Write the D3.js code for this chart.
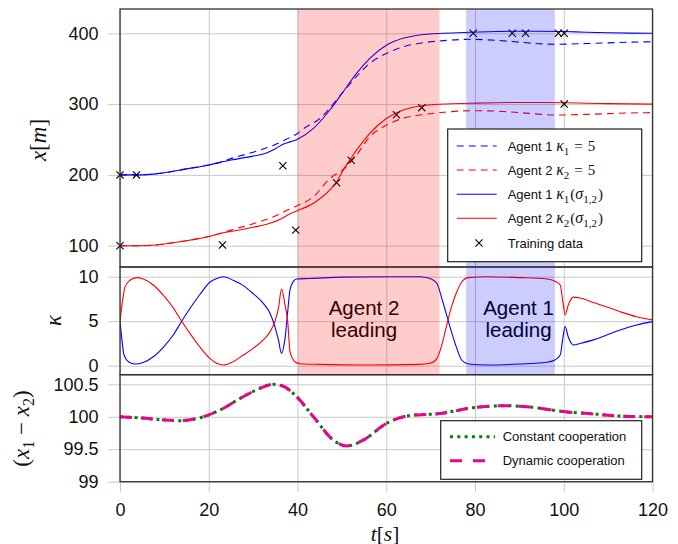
<!DOCTYPE html>
<html><head><meta charset="utf-8">
<script src="https://cdn.jsdelivr.net/npm/d3@7"></script>
<style>body{margin:0;background:#fff}</style>
</head><body><svg id="c" width="678" height="544"></svg>
<script>
// ---------- DATA ----------
const xTicks = [0, 20, 40, 60, 80, 100, 120];
const topTicks = [100, 200, 300, 400];
const midTicks = [0, 5, 10];
const botTicks = [99, 99.5, 100, 100.5];
const botTickLabels = ["99", "99.5", "100", "100.5"];

// Agent 1, dynamic kappa (solid blue)
const tA1Dyn = [0,4,8,10,15,20,23,25,30,33,35,37,38.5,40,43.6,47.3,50.3,53.3,56.3,60.1,63.8,67.6,72.9,78.9,85,90,95,100,105,110,115,120];
const xA1Dyn = [200,200,201.5,203,208.5,214,218.5,221,226.5,231,237,244,247,250.5,265.8,291.7,317.5,343.5,364.7,383.5,392.9,397.6,400,401.4,402.5,403,403,402.5,401.5,400.8,400.3,400];
// Agent 1, kappa = 5 (dashed blue)
const tA1Const = [0,4,8,10,15,20,23,25,30,35,38,40,41.3,45.1,50,53.3,56.3,60.1,63.8,67.6,72.9,78.9,85,90,95,98,105,110,115,120];
const xA1Const = [200,200,201.5,203,208.5,214,218.5,223,232,243,252,258.5,265,280,315,339,357.6,371.8,381,385.9,389.6,391.5,390,387.5,385,384.5,385.5,386.5,387.5,388];
// Agent 2, dynamic kappa (solid red)
const tA2Dyn = [0,4,8,10,15,20,23,25,30,33.8,36,38,39.8,43.6,47.3,48.8,50.3,51.8,53.3,56.3,60.1,63.8,67.6,72.9,78.9,85,90,95,100,105,110,115,120];
const xA2Dyn = [100,100,101,102.5,107,113,118,120,126,131.6,137,144,149,160,178.7,190,206.9,221,235,258.8,280,291.7,297.3,300.1,301.1,302,302.3,302.3,302,301.3,300.7,300.3,300];
// Agent 2, kappa = 5 (dashed red)
const tA2Const = [0,4,8,10,15,20,23,25,30,35,38,39.8,43.6,47.3,50.6,53.3,56.3,60.1,63.8,67.6,72.9,78.9,85,90,95,98,105,110,115,120];
const xA2Const = [100,100,101,102.5,107,113,118,122,131,142,151,156,169,195,209,228,254,270.5,280,284.6,288.4,290.7,290,288,285.5,284.5,285.5,286.5,287.5,288];
// Training data
const trainT = [0,3.7,36.7,0,23.1,39.6,48.8,52.1,62.3,68,79.6,88.4,91.4,98.8,100.1,100.1];
const trainX = [200,200,213,100,101,122,189,220.6,285,295,400,400,400,400,400,300];

// kappa_1 (blue)
const tK1 = [0,0.4,0.9,1.9,3.4,5.25,7.5,9.8,12,13.9,15.8,18,20.3,21.8,23.3,25.5,27.8,30,32.3,33.8,34.9,35.7,36.4,37.2,37.8,38.3,39.1,39.8,42.8,50,60,67.6,69.9,71.4,72.5,73.6,74.7,75.9,77,78.5,82.6,90.1,96.2,98,99.2,99.8,100.3,101,102.2,103.7,106.7,109.7,112.7,116.4,120];
const k1 = [5,3.1,1.2,0.45,0.19,0.37,1.0,2.1,3.45,5,6.45,8.0,9.4,9.8,10.0,9.6,9.0,8.1,7.0,5.9,4.4,2.9,1.4,3.1,6.1,8.5,9.5,9.75,9.8,9.95,10.0,10,9.8,9.26,7.6,5.7,3.8,1.95,0.64,0.19,0.08,0.19,0.38,0.64,1.2,3.1,4.4,3.26,2.33,2.5,2.9,3.45,4.0,4.57,4.95];
// kappa_2 (red)
const tK2 = [0,0.75,1.1,2.25,3.75,5.25,7.5,9.8,12,13.9,15.8,18,20.3,21.8,23.3,25.5,27.8,30,32.3,33.8,34.9,35.7,36.4,37.2,37.8,38.3,39.4,40.6,45,55,67.6,69.9,71.4,72.5,73.6,74.7,75.9,77,78.5,82.6,90.1,96.2,98,99.2,99.8,100.3,101,102.2,103.7,106.7,109.7,112.7,116.4,120];
const k2 = [5,7.9,8.8,9.6,9.9,9.74,9.07,7.9,6.5,5.0,3.6,2.1,0.8,0.27,0.08,0.45,1.2,1.95,2.9,3.8,4.95,6.45,8.6,6.8,4.95,1.6,0.45,0.22,0.15,0.08,0.15,0.27,0.8,2.3,4.5,6.6,8.3,9.4,9.9,10.0,9.9,9.74,9.5,9.07,7.2,5.7,6.8,7.7,7.6,7.1,6.6,6.07,5.5,5.15];

// x1 - x2
const tDiff = [0,5,10,13.5,18.8,23,27,31,34.5,36.8,39.8,43.6,48.1,51.1,54.8,60.1,65.4,72.1,79.6,87.1,92.4,99.9,107.4,113,120];
const diffConst = [100,99.98,99.95,99.94,100.0,100.12,100.28,100.42,100.5,100.47,100.31,100.0,99.64,99.55,99.64,99.9,100.02,100.05,100.14,100.17,100.15,100.08,100.04,100.01,100.0];
const diffDyn = [100,99.98,99.95,99.94,100.0,100.12,100.28,100.42,100.5,100.47,100.31,100.0,99.64,99.55,99.64,99.9,100.02,100.05,100.14,100.17,100.15,100.08,100.04,100.01,100.0];

const regions = [
  {from: 40, to: 72, color: "#ff0000", line1: "Agent 2", line2: "leading", cx: 364},
  {from: 78, to: 98, color: "#0000ff", line1: "Agent 1", line2: "leading", cx: 518.5}
];

// ---------- LAYOUT ----------
const SANS = "'Liberation Sans', Arial, Helvetica, sans-serif";
const SERIF = "'Liberation Serif', 'DejaVu Serif', serif";
const svg = d3.select("#c");
const X0 = 120, X1 = 652.5;
const x = d3.scaleLinear().domain([0, 120]).range([X0, X1]);
const panels = {
  top: {y0: 9, y1: 267, s: d3.scaleLinear().domain([100, 400]).range([245.7, 33.3]), ticks: topTicks, labels: topTicks.map(String)},
  mid: {y0: 267, y1: 374.7, s: d3.scaleLinear().domain([0, 10]).range([365.7, 276.7]), ticks: midTicks, labels: midTicks.map(String)},
  bot: {y0: 374.7, y1: 481.7, s: d3.scaleLinear().domain([99, 100.5]).range([481.7, 384.3]), ticks: botTicks, labels: botTickLabels}
};
const GRID = "#c9c9c9";

const defs = svg.append("defs");
Object.entries(panels).forEach(([k, p]) => {
  defs.append("clipPath").attr("id", "clip-" + k).append("rect")
    .attr("x", X0).attr("y", p.y0).attr("width", X1 - X0).attr("height", p.y1 - p.y0);
});

// x gridlines + bottom ticks
const xAxis = d3.axisBottom(x).tickValues(xTicks).tickSizeInner(-(492 - 9)).tickSizeOuter(0).tickPadding(11.5);
const gx = svg.append("g").attr("transform", "translate(0,492)").call(xAxis);
gx.select(".domain").remove();
gx.selectAll("line").attr("stroke", GRID).attr("stroke-width", 1);
gx.selectAll("text").attr("font-family", SANS).attr("font-size", 18).attr("fill", "#111");

// y gridlines per panel
Object.values(panels).forEach(p => {
  const ax = d3.axisLeft(p.s).tickValues(p.ticks).tickFormat((d, i) => p.labels[i])
    .tickSizeInner(-(X1 - 108)).tickSizeOuter(0).tickPadding(9.5);
  const g = svg.append("g").attr("transform", "translate(108,0)").call(ax);
  g.select(".domain").remove();
  g.selectAll("line").attr("stroke", GRID).attr("stroke-width", 1);
  g.selectAll("text").attr("font-family", SANS).attr("font-size", 18).attr("fill", "#111");
});

function drawLine(panel, ts, vs, color, width, dash) {
  const p = panels[panel];
  const data = ts.map((t, i) => [t, vs[i]]);
  const line = d3.line().x(d => x(d[0])).y(d => p.s(d[1])).curve(d3.curveMonotoneX);
  svg.append("path").datum(data).attr("d", line).attr("fill", "none")
    .attr("stroke", color).attr("stroke-width", width)
    .attr("stroke-dasharray", dash || null)
    .attr("clip-path", "url(#clip-" + panel + ")");
}

// top panel lines
drawLine("top", tA1Const, xA1Const, "#0000ff", 1.1, "7,5");
drawLine("top", tA2Const, xA2Const, "#ff0000", 1.1, "7,5");
drawLine("top", tA1Dyn, xA1Dyn, "#0000ff", 1.1);
drawLine("top", tA2Dyn, xA2Dyn, "#ff0000", 1.1);

// training crosses
function cross(g, cx, cy, r) {
  g.append("path").attr("d", `M${cx - r},${cy - r}L${cx + r},${cy + r}M${cx - r},${cy + r}L${cx + r},${cy - r}`)
    .attr("stroke", "#000").attr("stroke-width", 1.1).attr("fill", "none");
}
const gc = svg.append("g");
trainT.forEach((t, i) => cross(gc, x(t), panels.top.s(trainX[i]), 3.6));

// middle panel
drawLine("mid", tK1, k1, "#0000ff", 1.1);
drawLine("mid", tK2, k2, "#ff0000", 1.1);

// annotation text
regions.forEach(r => {
  const t = svg.append("text").attr("font-family", SANS).attr("font-size", 20.5).attr("fill", "#000").attr("text-anchor", "middle");
  t.append("tspan").attr("x", r.cx).attr("y", 314.5).text(r.line1);
  t.append("tspan").attr("x", r.cx).attr("y", 336.5).text(r.line2);
});

// shading over top and mid panels
regions.forEach(r => {
  svg.append("rect").attr("x", x(r.from)).attr("y", panels.top.y0)
    .attr("width", x(r.to) - x(r.from)).attr("height", panels.mid.y1 - panels.top.y0)
    .attr("fill", r.color).attr("fill-opacity", 0.2);
});

// bottom panel
drawLine("bot", tDiff, diffConst, "#008000", 3, "3,4.3");
drawLine("bot", tDiff, diffDyn, "#e5068a", 3, "12,9");

// frames
Object.values(panels).forEach(p => {
  svg.append("rect").attr("x", X0).attr("y", p.y0).attr("width", X1 - X0).attr("height", p.y1 - p.y0)
    .attr("fill", "none").attr("stroke", "#333").attr("stroke-width", 1.3);
});

// ---------- LEGENDS ----------
function mathLabel(textSel, parts) {
  parts.forEach(pt => {
    const ts = textSel.append("tspan").text(pt.t);
    if (pt.serif) ts.attr("font-family", SERIF).attr("font-size", pt.size || 15);
    if (pt.it) ts.attr("font-style", "italic");
    if (pt.dy) ts.attr("dy", pt.dy);
    if (pt.dx) ts.attr("dx", pt.dx);
  });
}
const L1 = svg.append("g");
L1.append("rect").attr("x", 447.7).attr("y", 129).attr("width", 194).attr("height", 132.7)
  .attr("fill", "#fff").attr("stroke", "#222").attr("stroke-width", 1.2);
const leg1 = [
  {cy: 146, color: "#0000ff", dash: "7,5", agent: "Agent 1 ", sub: "1", kind: "const"},
  {cy: 170, color: "#ff0000", dash: "7,5", agent: "Agent 2 ", sub: "2", kind: "const"},
  {cy: 194.3, color: "#0000ff", dash: null, agent: "Agent 1 ", sub: "1", kind: "dyn"},
  {cy: 218.3, color: "#ff0000", dash: null, agent: "Agent 2 ", sub: "2", kind: "dyn"}
];
leg1.forEach(e => {
  L1.append("line").attr("x1", 456.7).attr("x2", 496.7).attr("y1", e.cy).attr("y2", e.cy)
    .attr("stroke", e.color).attr("stroke-width", 1.1).attr("stroke-dasharray", e.dash);
  const t = L1.append("text").attr("x", 507.7).attr("y", e.cy + 4.5).attr("font-family", SANS).attr("font-size", 13).attr("fill", "#111");
  const parts = [{t: e.agent}, {t: "κ", serif: true, it: true, size: 16}, {t: e.sub, serif: true, size: 11, dy: 4}];
  if (e.kind === "const") {
    parts.push({t: "=", serif: true, size: 15, dy: -4, dx: 5});
    parts.push({t: "5", serif: true, size: 15, dx: 5});
  } else {
    parts.push({t: "(", serif: true, size: 15, dy: -4, dx: 1});
    parts.push({t: "σ", serif: true, it: true, size: 16});
    parts.push({t: "1,2", serif: true, size: 11, dy: 4});
    parts.push({t: ")", serif: true, size: 15, dy: -4, dx: 1});
  }
  mathLabel(t, parts);
});
cross(L1, 479, 243, 3.6);
L1.append("text").attr("x", 507.7).attr("y", 247.5).attr("font-family", SANS).attr("font-size", 13).attr("fill", "#111").text("Training data");

const L2 = svg.append("g");
L2.append("rect").attr("x", 440.7).attr("y", 420.7).attr("width", 201).attr("height", 58.6)
  .attr("fill", "#fff").attr("stroke", "#222").attr("stroke-width", 1.2);
[{cy: 436.7, color: "#008000", dash: "3,4.3", label: "Constant cooperation"},
 {cy: 460.7, color: "#e5068a", dash: "12,11", label: "Dynamic cooperation"}].forEach(e => {
  L2.append("line").attr("x1", 450).attr("x2", 495).attr("y1", e.cy).attr("y2", e.cy)
    .attr("stroke", e.color).attr("stroke-width", 3).attr("stroke-dasharray", e.dash);
  L2.append("text").attr("x", 502.7).attr("y", e.cy + 4.5).attr("font-family", SANS).attr("font-size", 13).attr("fill", "#111").text(e.label);
});

// ---------- AXIS LABELS ----------
const yl1 = svg.append("text").attr("transform", "translate(46,140) rotate(-90)").attr("text-anchor", "middle")
  .attr("font-family", SERIF).attr("font-size", 23).attr("fill", "#111");
mathLabel(yl1, [{t: "x", serif: true, it: true, size: 23}, {t: "[", serif: true, size: 23}, {t: "m", serif: true, it: true, size: 23}, {t: "]", serif: true, size: 23}]);

svg.append("text").attr("transform", "translate(61,320.5) rotate(-90)").attr("text-anchor", "middle")
  .attr("font-family", SERIF).attr("font-style", "italic").attr("font-size", 23).attr("fill", "#111").text("κ");

const yl3 = svg.append("text").attr("transform", "translate(29,428.5) rotate(-90)").attr("text-anchor", "middle")
  .attr("font-family", SERIF).attr("font-size", 23).attr("fill", "#111");
mathLabel(yl3, [{t: "(", serif: true, size: 23}, {t: "x", serif: true, it: true, size: 23}, {t: "1", serif: true, size: 16, dy: 5},
  {t: " − ", serif: true, size: 23, dy: -5}, {t: "x", serif: true, it: true, size: 23}, {t: "2", serif: true, size: 16, dy: 5},
  {t: ")", serif: true, size: 23, dy: -5}]);

const xl = svg.append("text").attr("x", 385).attr("y", 540.5).attr("text-anchor", "middle")
  .attr("font-family", SERIF).attr("font-size", 21.5).attr("fill", "#111");
mathLabel(xl, [{t: "t", serif: true, it: true, size: 21.5}, {t: "[", serif: true, size: 21.5}, {t: "s", serif: true, it: true, size: 21.5}, {t: "]", serif: true, size: 21.5}]);
</script>
</body></html>
